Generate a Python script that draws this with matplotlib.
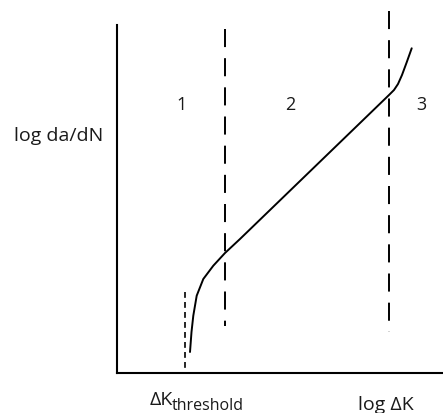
import matplotlib
matplotlib.use("Agg")
import matplotlib.pyplot as plt

plt.rcParams["font.family"] = ["Open Sans", "DejaVu Sans"]

# pixel positions (x from left, y from top)
curve_px_x = [190, 191.5, 193.3, 196.7, 203.3, 213.3, 225, 240, 389, 394, 398, 402, 406.7, 411.7]
curve_px_y = [353, 333, 316.7, 296.7, 280, 266.7, 254, 240, 96, 91, 85, 76, 63.3, 49.3]

region_bounds_px = [225, 389]
region_top_px = [30, 12]
region_bottom_px = [327, 333]
threshold_px = 185
threshold_top_px = 293

region_labels = ["1", "2", "3"]
region_label_px_x = [182, 290, 421]

W, H = 443, 414
X0, Y0 = 117, 374   # axes corner
X1, Y1 = 443, 26


def dx(px):
    return (px - X0) / (X1 - X0)


def dy(py):
    return (Y0 - py) / (Y0 - Y1)


def fy(py):
    return 1 - py / H


fig = plt.figure(figsize=(W / 100, H / 100), dpi=100)
ax = fig.add_axes([X0 / W, (H - Y0) / H, (X1 - X0) / W, (Y0 - Y1) / H])
ax.set_xlim(0, 1)
ax.set_ylim(0, 1)
for s in ["top", "right"]:
    ax.spines[s].set_visible(False)
ax.spines["left"].set_linewidth(1.5)
ax.spines["bottom"].set_linewidth(1.5)
ax.set_xticks([])
ax.set_yticks([])

ax.plot([dx(v) for v in curve_px_x], [dy(v) for v in curve_px_y],
        color="black", linewidth=1.4, solid_capstyle="round", clip_on=False)

# drawn top to bottom so the dash pattern starts at the top
for xb, yt, yb in zip(region_bounds_px, region_top_px, region_bottom_px):
    ax.plot([dx(xb), dx(xb)], [dy(yt), dy(yb)], color="black", linewidth=1.4,
            linestyle=(0, (9.3, 5.7)), solid_capstyle="butt", clip_on=False)

ax.plot([dx(threshold_px), dx(threshold_px)], [dy(threshold_top_px), 0],
        color="black", linewidth=1.2, linestyle=(0, (3.5, 2.5)), clip_on=False)

txt = "#1a1a1a"
for lab, px in zip(region_labels, region_label_px_x):
    fig.text(px / W, fy(110), lab, ha="center", va="baseline", fontsize=13,
             color=txt)

fig.text(59 / W, fy(141), "log da/dN", ha="center", va="baseline", fontsize=14,
         color=txt)
fig.text(150 / W, fy(405), "\u0394K", ha="left", va="baseline", fontsize=14,
         color=txt)
fig.text(172 / W, fy(410.5), "threshold", ha="left", va="baseline", fontsize=11.5,
         color=txt)
fig.text(386 / W, fy(410), "log \u0394K", ha="center", va="baseline", fontsize=14,
         color=txt)

fig.savefig("out.png", dpi=100)
